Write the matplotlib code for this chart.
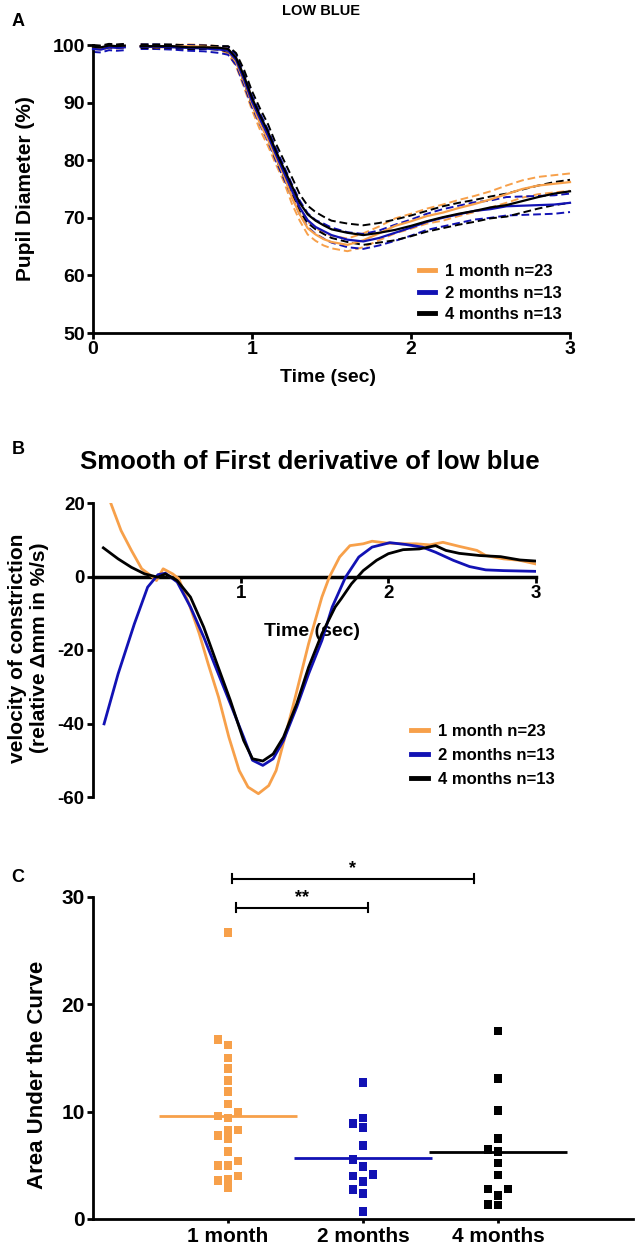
import numpy as np
import matplotlib
matplotlib.use("Agg")
import matplotlib.pyplot as plt
from matplotlib.lines import Line2D

plt.rcParams["font.family"] = ["Liberation Sans", "DejaVu Sans"]
plt.rcParams["font.weight"] = "bold"
plt.rcParams["axes.linewidth"] = 2.0
plt.rcParams["axes.unicode_minus"] = False
plt.rcParams["xtick.major.width"] = 2.0
plt.rcParams["ytick.major.width"] = 2.0
plt.rcParams["xtick.major.size"] = 4
plt.rcParams["ytick.major.size"] = 4

# ------------------------------------------------------------
# data
# ------------------------------------------------------------
groups = ["1 month n=23", "2 months n=13", "4 months n=13"]
categories = ["1 month", "2 months", "4 months"]
colors = ["#F7A04A", "#1212B4", "#000000"]

# A: pupil diameter (%) vs time (sec), mean and SEM
nan = np.nan
time_a = [0.0, 0.05, 0.1, 0.15, 0.2, 0.25, 0.3, 0.4, 0.5, 0.6, 0.7, 0.8, 0.85,
          0.9, 0.95, 1.0, 1.05, 1.1, 1.15, 1.2, 1.25, 1.3, 1.35, 1.4, 1.45,
          1.5, 1.6, 1.7, 1.8, 1.9, 2.0, 2.1, 2.2, 2.3, 2.4, 2.5, 2.6, 2.7,
          2.8, 2.9, 3.0]
mean_1m = [99.6, 99.5, 99.8, 99.7, 99.8, nan, 99.8, 99.6, 99.7, 99.8, 99.7, 99.5, 98.9,
           97.0, 93.6, 89.8, 86.4, 83.6, 80.4, 77.4, 73.6, 70.6, 68.2, 67.1, 66.3,
           65.8, 65.3, 66.1, 67.3, 68.6, 69.4, 70.3, 70.9, 71.7, 72.4, 73.2, 74.1, 75.0,
           75.6, 75.9, 76.2]
sem_1m = [0.3, 0.3, 0.3, 0.3, 0.3, nan, 0.3, 0.3, 0.3, 0.3, 0.3, 0.3, 0.5,
          0.7, 1.0, 1.1, 1.1, 1.1, 1.1, 1.1, 1.1, 1.1, 1.1, 1.1, 1.1,
          1.1, 1.1, 1.2, 1.2, 1.3, 1.3, 1.3, 1.4, 1.4, 1.4, 1.4, 1.5, 1.5,
          1.5, 1.5, 1.5]
mean_2m = [99.3, 99.2, 99.6, 99.5, 99.6, nan, 99.7, 99.7, 99.6, 99.5, 99.4, 99.2, 99.0,
           97.4, 94.0, 90.2, 87.2, 84.3, 81.0, 77.9, 74.8, 71.8, 69.6, 68.4, 67.7,
           67.0, 66.2, 65.9, 66.5, 67.4, 68.3, 69.3, 70.0, 70.6, 71.2, 71.5, 72.0, 72.1,
           72.2, 72.3, 72.6]
sem_2m = [0.5, 0.5, 0.5, 0.5, 0.5, nan, 0.4, 0.4, 0.4, 0.5, 0.5, 0.6, 0.7,
          0.9, 1.0, 1.0, 1.0, 1.0, 1.1, 1.1, 1.1, 1.2, 1.2, 1.2, 1.3,
          1.3, 1.3, 1.3, 1.3, 1.4, 1.4, 1.4, 1.5, 1.5, 1.5, 1.5, 1.6, 1.6,
          1.6, 1.6, 1.6]
mean_4m = [99.7, 99.6, 99.9, 99.8, 99.9, nan, 99.8, 99.8, 99.8, 99.6, 99.6, 99.5, 99.3,
           97.8, 94.6, 90.8, 87.8, 85.0, 81.6, 78.6, 75.6, 72.6, 70.6, 69.5, 68.7,
           68.0, 67.4, 67.0, 67.4, 67.9, 68.6, 69.4, 70.1, 70.7, 71.2, 71.8, 72.2, 72.9,
           73.6, 74.2, 74.6]
sem_4m = [0.3, 0.3, 0.3, 0.3, 0.3, nan, 0.3, 0.3, 0.3, 0.3, 0.3, 0.3, 0.5,
          0.8, 1.1, 1.2, 1.2, 1.3, 1.3, 1.4, 1.5, 1.5, 1.5, 1.5, 1.5,
          1.5, 1.6, 1.7, 1.7, 1.8, 1.8, 1.8, 1.9, 1.9, 1.9, 1.9, 2.0, 2.0,
          2.0, 2.0, 2.0]

# B: smoothed first derivative (%/s)
time_b_1m = [0.12, 0.19, 0.26, 0.33, 0.39, 0.43, 0.475, 0.54, 0.58, 0.65, 0.72, 0.78,
             0.85, 0.92, 0.99, 1.05, 1.12, 1.19, 1.24, 1.30, 1.37, 1.46, 1.55, 1.60,
             1.67, 1.74, 1.83, 1.89, 1.99, 2.10, 2.19, 2.28, 2.37, 2.48, 2.60, 2.66,
             2.78, 2.89, 3.0]
vel_1m = [20.0, 12.5, 7.1, 2.1, 0.3, -1.1, 2.1, 0.7, -0.6, -7.4, -15.6, -23.8,
          -32.8, -43.7, -52.8, -57.3, -59.1, -56.9, -52.8, -43.7, -32.8, -18.3, -5.6, -0.2,
          5.3, 8.4, 8.9, 9.6, 9.1, 8.9, 8.9, 8.6, 9.3, 8.2, 7.1, 5.7,
          4.8, 4.4, 3.4]
time_b_2m = [0.075, 0.17, 0.28, 0.37, 0.44, 0.49, 0.57, 0.66, 0.75, 0.84, 0.93, 1.02,
             1.08, 1.15, 1.22, 1.29, 1.38, 1.46, 1.55, 1.62, 1.71, 1.80, 1.89, 2.01,
             2.12, 2.23, 2.32, 2.44, 2.55, 2.66, 2.78, 2.89, 3.0]
vel_2m = [-40.1, -26.5, -12.9, -2.9, 0.5, 0.9, -1.5, -8.3, -16.5, -25.6, -34.6, -43.7,
          -50.0, -51.4, -49.6, -44.6, -35.5, -26.5, -17.4, -8.3, -0.2, 5.3, 8.0, 9.2,
          8.7, 8.0, 6.6, 4.4, 2.7, 1.8, 1.6, 1.5, 1.4]
time_b_4m = [0.07, 0.17, 0.26, 0.35, 0.44, 0.49, 0.57, 0.66, 0.75, 0.84, 0.93, 1.02,
             1.08, 1.15, 1.22, 1.29, 1.38, 1.46, 1.55, 1.64, 1.68, 1.75, 1.83, 1.92,
             2.0, 2.1, 2.21, 2.32, 2.39, 2.48, 2.62, 2.76, 2.89, 3.0]
vel_4m = [7.8, 4.8, 2.5, 0.7, -0.2, 0.7, -1.1, -5.6, -13.8, -23.8, -33.7, -44.6,
          -49.6, -50.2, -48.3, -43.7, -34.6, -24.7, -15.6, -8.3, -6.1, -2.0, 1.6, 4.4,
          6.2, 7.3, 7.5, 8.4, 7.1, 6.3, 5.7, 5.4, 4.5, 4.2]

# C: area under the curve per animal
auc_1m = [26.7, 16.7, 16.2, 15.0, 14.0, 12.9, 11.9, 10.7, 9.9, 9.6, 9.4, 8.3,
          8.3, 7.8, 7.5, 6.3, 5.4, 5.0, 5.0, 4.0, 3.7, 3.6, 2.9]
auc_2m = [12.7, 9.4, 8.9, 8.55, 6.85, 5.55, 4.9, 4.15, 4.0, 3.5, 2.75, 2.4, 0.7]
auc_4m = [17.5, 13.1, 10.1, 7.5, 6.5, 6.3, 5.2, 4.1, 2.8, 2.8, 2.2, 1.3, 1.35]

# significance: (x start, x end, bar height, label)
sig_bars = [(1.06, 2.04, 29.0, "**"), (1.03, 2.82, 31.7, "*")]

W, H = 638, 1251
fig = plt.figure(figsize=(W / 100, H / 100), dpi=100)


def px(x, y):
    return x / W, 1 - y / H


def style_axes(ax):
    for s in ("top", "right"):
        ax.spines[s].set_visible(False)
    ax.tick_params(direction="out")


# ------------------------------------------------------------
# Panel A
# ------------------------------------------------------------
axA = fig.add_axes([93 / W, 1 - 333 / H, (570 - 93) / W, (333 - 45) / H])
style_axes(axA)
ta = np.array(time_a)
for m, s, c in zip([mean_1m, mean_2m, mean_4m], [sem_1m, sem_2m, sem_4m], colors):
    m, s = np.array(m), np.array(s)
    axA.plot(ta, m, color=c, lw=1.6, clip_on=False, zorder=3)
    axA.plot(ta, m + s, color=c, lw=1.4, ls=(0, (4, 2)), clip_on=False, zorder=2)
    axA.plot(ta, m - s, color=c, lw=1.4, ls=(0, (4, 2)), clip_on=False, zorder=2)
axA.set_xlim(0, 3)
axA.set_ylim(50, 100)
axA.set_xticks([0, 1, 2, 3])
axA.set_yticks(range(50, 101, 10))
axA.tick_params(labelsize=14, pad=2)
handles = [Line2D([0], [0], color=c, lw=3.5) for c in colors]
axA.legend(handles, groups, loc="upper left", bbox_to_anchor=(0.683, 0.24),
           frameon=False, fontsize=12, handlelength=1.0, handletextpad=0.6,
           labelspacing=0.4, borderpad=0, borderaxespad=0)
fig.text(*px(328, 378), "Time (sec)", ha="center", va="center", fontsize=14)
fig.text(*px(26, 189), "Pupil Diameter (%)", rotation=90, ha="center", va="center",
         fontsize=15)
fig.text(*px(321, 11), "LOW BLUE", ha="center", va="center", fontsize=10.5)
fig.text(*px(18, 22), "A", ha="center", va="center", fontsize=13)

# ------------------------------------------------------------
# Panel B
# ------------------------------------------------------------
axB = fig.add_axes([93 / W, 1 - 797 / H, (536 - 93) / W, (797 - 503) / H])
style_axes(axB)
for tx, v, c in zip([time_b_1m, time_b_2m, time_b_4m], [vel_1m, vel_2m, vel_4m], colors):
    axB.plot(tx, v, color=c, lw=2.0, zorder=3)
axB.spines["bottom"].set_position(("data", 0))
axB.spines["bottom"].set_linewidth(2.5)
axB.set_xlim(0, 3)
axB.set_ylim(-60, 20)
axB.set_xticks([1, 2, 3])
axB.set_yticks([20, 0, -20, -40, -60])
axB.tick_params(labelsize=13.5, pad=2)
axB.text(1.48, -15, "Time (sec)", ha="center", va="center", fontsize=14, zorder=1)
axB.legend(handles, groups, loc="upper left", bbox_to_anchor=(0.718, 0.25),
           frameon=False, fontsize=12, handlelength=1.0, handletextpad=0.6,
           labelspacing=0.55, borderpad=0, borderaxespad=0)
fig.text(*px(29, 648), "velocity of constriction\n(relative \u0394mm in %/s)", rotation=90,
         ha="center", va="center", multialignment="center", fontsize=15)
fig.text(*px(310, 462), "Smooth of First derivative of low blue", ha="center",
         va="center", fontsize=18.5)
fig.text(*px(18, 450), "B", ha="center", va="center", fontsize=13)


# ------------------------------------------------------------
# Panel C
# ------------------------------------------------------------
def swarm_offsets(values, step=0.075, gap=0.8):
    values = np.asarray(values, dtype=float)
    offs = np.zeros(len(values))
    placed = []
    for i in np.argsort(values):
        v = values[i]
        k = 0
        while True:
            cands = [0.0] if k == 0 else [-k * step, k * step]
            ok = None
            for cnd in cands:
                if all(abs(cnd - o) > 1e-9 or abs(v - pv) >= gap for o, pv in placed):
                    ok = cnd
                    break
            if ok is not None:
                offs[i] = ok
                placed.append((ok, v))
                break
            k += 1
    return offs


axC = fig.add_axes([93 / W, 1 - 1219 / H, (633 - 93) / W, (1219 - 897) / H])
style_axes(axC)
for pos, vals, c in zip([1, 2, 3], [auc_1m, auc_2m, auc_4m], colors):
    xs = pos + swarm_offsets(vals)
    axC.scatter(xs, vals, marker="s", s=38, color=c, edgecolors="none", zorder=3)
    axC.hlines(np.mean(vals), pos - 0.51, pos + 0.51, color=c, lw=2.0, zorder=2)
for x0, x1, yb, lab in sig_bars:
    axC.plot([x0, x1], [yb, yb], color="black", lw=1.5, clip_on=False)
    axC.plot([x0, x0], [yb - 0.4, yb + 0.4], color="black", lw=1.5, clip_on=False)
    axC.plot([x1, x1], [yb - 0.4, yb + 0.4], color="black", lw=1.5, clip_on=False)
    axC.text((x0 + x1) / 2, yb + 0.15, lab, ha="center", va="bottom", fontsize=13,
             clip_on=False)
axC.set_xlim(0, 4)
axC.set_ylim(0, 30)
axC.set_xticks([1, 2, 3])
axC.set_xticklabels(categories)
axC.set_yticks([0, 10, 20, 30])
axC.tick_params(axis="y", labelsize=15, pad=2)
axC.tick_params(axis="x", labelsize=15, pad=3, length=3)
fig.text(*px(38, 1075), "Area Under the Curve", rotation=90, ha="center", va="center",
         fontsize=16)
fig.text(*px(18, 878), "C", ha="center", va="center", fontsize=13)

fig.savefig("out.png", dpi=100)
